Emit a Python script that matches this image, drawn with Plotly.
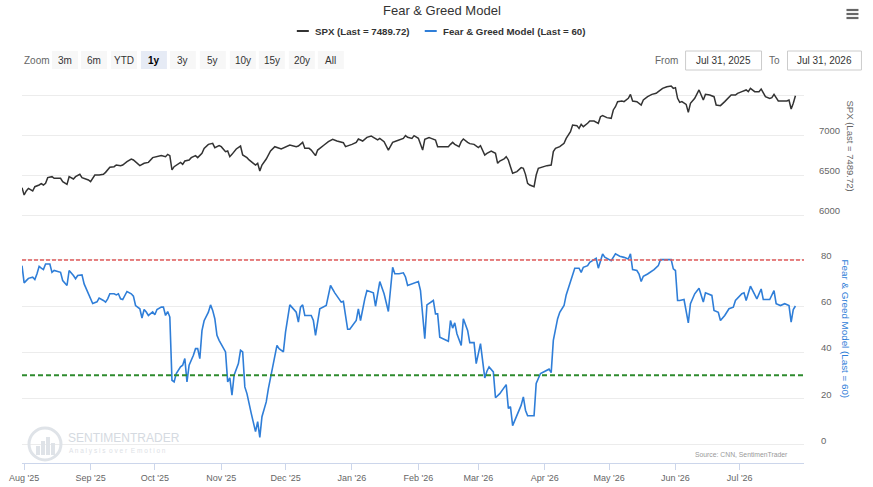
import plotly.graph_objects as go

# ---------------- DATA ----------------
spx_dates = [
 "2025-07-31","2025-08-01","2025-08-02","2025-08-03","2025-08-05","2025-08-06","2025-08-08","2025-08-09","2025-08-10","2025-08-11",
 "2025-08-12","2025-08-14","2025-08-15","2025-08-18","2025-08-19","2025-08-21","2025-08-22","2025-08-24","2025-08-25","2025-08-27",
 "2025-08-28","2025-08-31","2025-09-01","2025-09-03","2025-09-05","2025-09-07","2025-09-08","2025-09-10","2025-09-12","2025-09-13",
 "2025-09-15","2025-09-16","2025-09-18","2025-09-20","2025-09-21","2025-09-23","2025-09-24","2025-09-26","2025-09-28","2025-09-30",
 "2025-10-02","2025-10-04","2025-10-06","2025-10-07","2025-10-08","2025-10-09","2025-10-10","2025-10-12","2025-10-13","2025-10-14",
 "2025-10-15","2025-10-17","2025-10-18","2025-10-20","2025-10-21","2025-10-23","2025-10-24","2025-10-26","2025-10-28","2025-10-29",
 "2025-10-30","2025-10-31","2025-11-01","2025-11-03","2025-11-04","2025-11-05","2025-11-06","2025-11-08","2025-11-10","2025-11-11",
 "2025-11-13","2025-11-14","2025-11-16","2025-11-17","2025-11-18","2025-11-19","2025-11-20","2025-11-22","2025-11-24","2025-11-26",
 "2025-11-29","2025-12-01","2025-12-03","2025-12-06","2025-12-07","2025-12-09","2025-12-10","2025-12-12","2025-12-13","2025-12-15",
 "2025-12-16","2025-12-19","2025-12-21","2025-12-23","2025-12-25","2025-12-28","2025-12-29","2026-01-01","2026-01-03","2026-01-04",
 "2026-01-06","2026-01-08","2026-01-10","2026-01-11","2026-01-13","2026-01-14","2026-01-16","2026-01-18","2026-01-20","2026-01-22",
 "2026-01-25","2026-01-26","2026-01-27","2026-01-29","2026-01-30","2026-02-01","2026-02-02","2026-02-03","2026-02-04","2026-02-06",
 "2026-02-07","2026-02-09","2026-02-10","2026-02-13","2026-02-15","2026-02-16","2026-02-17","2026-02-18","2026-02-20","2026-02-21",
 "2026-02-22","2026-02-24","2026-02-25","2026-02-27","2026-03-01","2026-03-02","2026-03-03","2026-03-04","2026-03-05","2026-03-07",
 "2026-03-09","2026-03-10","2026-03-11","2026-03-13","2026-03-14","2026-03-15","2026-03-16","2026-03-17","2026-03-19","2026-03-20",
 "2026-03-21","2026-03-22","2026-03-23","2026-03-24","2026-03-25","2026-03-27","2026-03-28","2026-03-29","2026-03-31","2026-04-02",
 "2026-04-04","2026-04-05","2026-04-06","2026-04-08","2026-04-10","2026-04-11","2026-04-13","2026-04-14","2026-04-16","2026-04-17",
 "2026-04-18","2026-04-19","2026-04-21","2026-04-22","2026-04-24","2026-04-26","2026-04-27","2026-04-28","2026-04-30","2026-05-02",
 "2026-05-03","2026-05-04","2026-05-05","2026-05-07","2026-05-08","2026-05-09","2026-05-10","2026-05-11","2026-05-12","2026-05-14",
 "2026-05-16","2026-05-17","2026-05-19","2026-05-21","2026-05-23","2026-05-24","2026-05-26","2026-05-28","2026-05-30","2026-05-31",
 "2026-06-01","2026-06-02","2026-06-03","2026-06-04","2026-06-06","2026-06-07","2026-06-08","2026-06-10","2026-06-12","2026-06-14",
 "2026-06-15","2026-06-17","2026-06-19","2026-06-20","2026-06-22","2026-06-24","2026-06-27","2026-06-29","2026-06-30","2026-07-02",
 "2026-07-04","2026-07-05","2026-07-06","2026-07-08","2026-07-10","2026-07-11","2026-07-13","2026-07-15","2026-07-16","2026-07-17",
 "2026-07-19","2026-07-22","2026-07-23","2026-07-24","2026-07-25","2026-07-26","2026-07-27",
]
spx_values = [
 6342,6250,6300,6333,6300,6354,6375,6392,6375,6396,
 6467,6479,6458,6458,6417,6383,6479,6450,6479,6508,
 6467,6438,6417,6500,6500,6508,6533,6596,6604,6625,
 6617,6625,6667,6700,6688,6646,6617,6646,6658,6717,
 6729,6742,6729,6758,6742,6563,6604,6633,6658,6633,
 6675,6688,6717,6742,6717,6771,6833,6883,6896,6842,
 6854,6867,6854,6792,6800,6729,6758,6825,6862,6750,
 6717,6688,6646,6625,6646,6550,6625,6700,6800,6854,
 6825,6854,6875,6854,6862,6908,6833,6833,6812,6742,
 6812,6875,6917,6946,6925,6904,6854,6883,6908,6950,
 6925,6971,6988,6971,6938,6958,6917,6812,6908,6929,
 6958,6992,6971,6958,6992,6958,6896,6812,6946,6967,
 6958,6938,6854,6854,6854,6883,6908,6883,6854,6917,
 6950,6908,6892,6883,6842,6867,6812,6750,6771,6800,
 6771,6646,6675,6700,6729,6688,6604,6521,6542,6563,
 6592,6583,6508,6396,6375,6354,6500,6583,6604,6617,
 6625,6792,6833,6854,6896,6958,7042,7125,7117,7083,
 7133,7104,7146,7175,7175,7146,7229,7242,7217,7208,
 7313,7354,7417,7425,7417,7438,7458,7508,7425,7417,
 7375,7438,7479,7508,7521,7542,7583,7604,7613,7583,
 7592,7458,7408,7417,7383,7283,7396,7458,7563,7438,
 7508,7500,7479,7375,7367,7417,7500,7500,7521,7542,
 7563,7542,7583,7542,7542,7575,7479,7458,7467,7508,
 7425,7425,7425,7438,7325,7396,7489.72,
]

fg_dates = [
 "2025-07-31","2025-08-01","2025-08-02","2025-08-03","2025-08-05","2025-08-06","2025-08-07","2025-08-08","2025-08-09","2025-08-10",
 "2025-08-11","2025-08-13","2025-08-14","2025-08-15","2025-08-18","2025-08-19","2025-08-21","2025-08-22","2025-08-24","2025-08-25",
 "2025-08-26","2025-08-28","2025-08-29","2025-08-31","2025-09-02","2025-09-04","2025-09-05","2025-09-07","2025-09-08","2025-09-09",
 "2025-09-10","2025-09-12","2025-09-13","2025-09-14","2025-09-15","2025-09-16","2025-09-18","2025-09-20","2025-09-21","2025-09-22",
 "2025-09-24","2025-09-25","2025-09-26","2025-09-27","2025-09-28","2025-09-30","2025-10-01","2025-10-02","2025-10-04","2025-10-05",
 "2025-10-06","2025-10-07","2025-10-08","2025-10-09","2025-10-10","2025-10-11","2025-10-13","2025-10-14","2025-10-15","2025-10-16",
 "2025-10-17","2025-10-19","2025-10-20","2025-10-21","2025-10-22","2025-10-23","2025-10-24","2025-10-26","2025-10-27","2025-10-28",
 "2025-10-29","2025-10-30","2025-10-31","2025-11-03","2025-11-04","2025-11-05","2025-11-06","2025-11-07","2025-11-09","2025-11-10",
 "2025-11-11","2025-11-12","2025-11-13","2025-11-15","2025-11-17","2025-11-18","2025-11-19","2025-11-20","2025-11-22","2025-11-23",
 "2025-11-25","2025-11-27","2025-11-28","2025-11-30","2025-12-01","2025-12-03","2025-12-06","2025-12-07","2025-12-08","2025-12-09",
 "2025-12-10","2025-12-13","2025-12-14","2025-12-15","2025-12-17","2025-12-20","2025-12-22","2025-12-24","2025-12-27","2025-12-28",
 "2025-12-29","2025-12-30","2025-12-31","2026-01-03","2026-01-04","2026-01-05","2026-01-07","2026-01-08","2026-01-11","2026-01-12",
 "2026-01-14","2026-01-16","2026-01-18","2026-01-20","2026-01-21","2026-01-23","2026-01-25","2026-01-26","2026-01-27","2026-01-29",
 "2026-02-01","2026-02-02","2026-02-03","2026-02-04","2026-02-05","2026-02-08","2026-02-09","2026-02-10","2026-02-11","2026-02-13",
 "2026-02-15","2026-02-16","2026-02-17","2026-02-18","2026-02-19","2026-02-21","2026-02-22","2026-02-24","2026-02-25","2026-02-27",
 "2026-02-28","2026-03-02","2026-03-03","2026-03-04","2026-03-05","2026-03-06","2026-03-08","2026-03-09","2026-03-11","2026-03-14",
 "2026-03-15","2026-03-16","2026-03-17","2026-03-19","2026-03-21","2026-03-22","2026-03-23","2026-03-24","2026-03-27","2026-03-28",
 "2026-03-30","2026-04-03","2026-04-04","2026-04-05","2026-04-07","2026-04-08","2026-04-10","2026-04-11","2026-04-13","2026-04-14",
 "2026-04-15","2026-04-17","2026-04-18","2026-04-19","2026-04-21","2026-04-22","2026-04-24","2026-04-25","2026-04-26","2026-04-28",
 "2026-04-29","2026-05-02","2026-05-04","2026-05-06","2026-05-08","2026-05-10","2026-05-11","2026-05-12","2026-05-14","2026-05-15",
 "2026-05-16","2026-05-17","2026-05-19","2026-05-22","2026-05-24","2026-05-25","2026-05-30","2026-05-31","2026-06-01","2026-06-02",
 "2026-06-03","2026-06-05","2026-06-07","2026-06-08","2026-06-10","2026-06-12","2026-06-14","2026-06-15","2026-06-18","2026-06-19",
 "2026-06-21","2026-06-22","2026-06-24","2026-06-26","2026-06-28","2026-06-29","2026-07-02","2026-07-03","2026-07-04","2026-07-06",
 "2026-07-09","2026-07-11","2026-07-12","2026-07-15","2026-07-17","2026-07-18","2026-07-20","2026-07-22","2026-07-24","2026-07-25",
 "2026-07-26","2026-07-27",
]
fg_values = [
 77.5,70.0,71.0,72.0,72.5,71.5,74.0,77.2,76.4,75.8,
 78.2,78.2,74.6,75.4,74.6,71.0,68.9,75.4,73.2,71.8,
 73.2,73.5,69.6,65.3,61.1,61.8,63.4,62.4,61.7,63.1,
 65.3,65.3,64.8,65.3,63.1,62.8,66.3,65.3,64.3,60.2,
 58.8,54.8,58.5,57.4,55.9,57.4,56.2,58.5,59.5,59.5,
 55.9,57.6,55.2,27.8,27.1,30.7,33.6,34.3,37.2,27.1,
 34.3,38.6,41.5,41.5,37.2,49.3,53.6,57.3,60.5,58.1,
 54.5,47.3,45.1,40.1,27.1,28.8,21.3,30.0,35.0,40.8,
 40.1,24.9,22.0,13.4,5.5,9.8,3.0,12.0,18.4,24.2,
 34.3,42.9,41.5,40.1,48.7,60.5,57.3,53.0,59.5,60.5,
 55.9,55.9,53.7,47.3,58.8,60.2,68.9,65.7,61.7,62.0,
 55.9,49.9,49.9,53.7,58.8,53.7,63.1,66.7,65.7,59.9,
 70.6,65.3,57.6,76.8,74.0,74.0,74.4,72.6,68.9,69.6,
 70.6,66.7,57.3,45.8,60.5,62.4,56.6,56.6,46.5,45.5,
 44.7,53.7,50.4,52.7,48.0,42.9,54.5,49.4,44.1,44.1,
 35.0,43.7,37.2,28.8,31.7,33.6,31.4,20.2,22.0,25.9,
 15.6,16.3,8.1,12.7,17.0,20.6,14.8,12.4,12.4,26.4,
 30.7,32.6,31.1,45.1,54.5,57.3,60.2,64.8,70.3,73.2,
 76.4,76.4,74.6,76.8,77.5,79.0,80.4,80.7,76.4,82.6,
 81.2,79.7,82.6,81.6,81.1,80.4,82.6,75.8,75.4,73.9,
 70.6,72.9,73.9,75.8,77.5,80.1,80.1,76.1,75.4,62.4,
 62.4,62.8,52.7,61.0,65.3,67.7,61.7,65.7,64.6,58.1,
 57.3,53.7,55.9,58.8,59.5,62.4,65.3,65.7,62.4,68.6,
 63.1,67.4,62.8,62.8,66.7,61.0,60.2,61.0,60.2,53.0,
 58.5,60,
]

fg_thresholds = {"greed": 80, "fear": 30}
spx_ticks = [6000, 6500, 7000, 7500]
spx_ticktext = ["6000", "6500", "7000", ""]
fg_ticks = [0, 20, 40, 60, 80]
x_range = ["2025-07-31", "2026-07-31"]
zoom_buttons = ["3m", "6m", "YTD", "1y", "3y", "5y", "10y", "15y", "20y", "All"]
selected_button = "1y"

# ---------------- STYLE / LAYOUT ----------------
W, H = 873, 487
PLOT_L, PLOT_R, PLOT_T, PLOT_B = 22, 804.5, 85, 463   # screen pixels of the plot area
L, R, T, B = PLOT_L, W - PLOT_R, PLOT_T, H - PLOT_B
PW, PH = W - L - R, H - T - B
FONT = "Liberation Sans, Arial, sans-serif"
SPX_COLOR = "#333333"
FG_COLOR = "#2f7ed8"


def px(x):
    return (x - PLOT_L) / PW


def py(y):
    return 1 - (y - PLOT_T) / PH


def note(text, x, y, size, color, xanchor="center", yanchor="middle", **kw):
    return dict(text=text, x=px(x), y=py(y), xref="paper", yref="paper", xanchor=xanchor, yanchor=yanchor,
                showarrow=False, font=dict(size=size, color=color, family=FONT), **kw)


def prect(x0, y0, x1, y1, **kw):
    return dict(type="rect", xref="paper", yref="paper", x0=px(x0), x1=px(x1), y0=py(y1), y1=py(y0), **kw)


fig = go.Figure()
fig.add_trace(go.Scatter(x=spx_dates, y=spx_values, mode="lines", name="SPX (Last = 7489.72)",
                         line=dict(color=SPX_COLOR, width=1.5), xaxis="x", yaxis="y"))
fig.add_trace(go.Scatter(x=fg_dates, y=fg_values, mode="lines", name="Fear & Greed Model (Last = 60)",
                         line=dict(color=FG_COLOR, width=1.6), xaxis="x", yaxis="y2"))

shapes = []
annotations = []

# threshold lines
shapes.append(dict(type="line", xref="x domain", yref="y2", x0=0, x1=1,
                   y0=fg_thresholds["greed"], y1=fg_thresholds["greed"],
                   line=dict(color="#e05a5a", width=1.5, dash="4px,2px")))
shapes.append(dict(type="line", xref="x domain", yref="y2", x0=0, x1=1,
                   y0=fg_thresholds["fear"], y1=fg_thresholds["fear"],
                   line=dict(color="#2e8b2e", width=2, dash="5px,3px")))

# title
annotations.append(note("Fear & Greed Model", 442, 11, 13, "#333333"))
# legend
for lx, ltxt, col in [(297, "SPX (Last = 7489.72)", SPX_COLOR), (425, "Fear & Greed Model (Last = 60)", FG_COLOR)]:
    shapes.append(dict(type="line", xref="paper", yref="paper", x0=px(lx), x1=px(lx + 12),
                       y0=py(31), y1=py(31), line=dict(color=col, width=2)))
    annotations.append(note("<b>" + ltxt + "</b>", lx + 16, 31, 9.7, "#333333", xanchor="left"))

# hamburger menu
for hy in (10, 14, 18):
    shapes.append(prect(847, hy - 1.1, 859, hy + 1.1, fillcolor="#666666", line=dict(width=0)))

# zoom row
annotations.append(note("Zoom", 22, 60, 10, "#666666", xanchor="left"))
btn_centers = [65, 94, 124, 154, 183, 213, 243, 272, 302, 331]
for lbl, cx in zip(zoom_buttons, btn_centers):
    sel = lbl == selected_button
    shapes.append(prect(cx - 13, 51, cx + 13, 69, fillcolor="#e6ebf5" if sel else "#f7f7f7", line=dict(width=0)))
    annotations.append(note(("<b>%s</b>" % lbl) if sel else lbl, cx, 60, 10,
                            "#000000" if sel else "#333333"))

annotations.append(note("From", 680, 60, 10, "#666666", xanchor="right"))
annotations.append(note("To", 782, 60, 10, "#666666", xanchor="right"))
for x0, x1, txt in [(686, 762, "Jul 31, 2025"), (788, 862, "Jul 31, 2026")]:
    shapes.append(prect(x0, 51, x1, 70, fillcolor="white", line=dict(color="#cccccc", width=1)))
    annotations.append(note(txt, (x0 + x1) / 2, 60.5, 10, "#333333"))

# axis titles (rotated clockwise)
annotations.append(note("SPX (Last = 7489.72)", 852, 146, 9.5, "#666666", textangle=90))
annotations.append(note("Fear & Greed Model (Last = 60)", 847, 329, 9.8, FG_COLOR, textangle=90))

# watermark
shapes.append(dict(type="circle", xref="paper", yref="paper", x0=px(29), x1=px(61), y0=py(460), y1=py(428),
                   line=dict(color="#dfe3e8", width=3)))
for bx, bt in [(38, 446), (43, 441), (48, 437), (53, 443)]:
    shapes.append(prect(bx - 2, bt, bx + 2, 455, fillcolor="#dfe3e8", line=dict(width=0)))
annotations.append(note("SENTIMENTRADER", 66, 438, 12, "#d5dae1", xanchor="left"))
annotations.append(note("A n a l y s i s  o v e r  E m o t i o n", 67, 451, 6.5, "#dde1e6", xanchor="left"))
annotations.append(note("Source: CNN, SentimenTrader", 790, 454, 6.8, "#999999", xanchor="right"))

fig.update_layout(
    width=W, height=H,
    margin=dict(l=L, r=R, t=T, b=B, pad=0, autoexpand=False),
    paper_bgcolor="white", plot_bgcolor="white",
    showlegend=False,
    font=dict(family=FONT, color="#666666", size=10),
    xaxis=dict(type="date", range=x_range, anchor="y2", domain=[0, 1], automargin=False,
               showgrid=False, zeroline=False, showline=True, linecolor="#ccd6eb", linewidth=1,
               ticks="outside", ticklen=6, tickcolor="#ccd6eb", dtick="M1", tick0="2025-08-01",
               tickformat="%b '%y", tickfont=dict(size=9, color="#666666", family=FONT)),
    yaxis=dict(domain=[py(222), 1], range=[5912.5, 7625], side="right", anchor="x", automargin=False,
               tickvals=spx_ticks, ticktext=spx_ticktext, showgrid=True, gridcolor="#ececec",
               zeroline=False, showline=False, ticklabelstandoff=14, ticklabelshift=-4,
               tickfont=dict(size=9.5, color="#666666", family=FONT)),
    yaxis2=dict(domain=[0, py(238)], range=[-8.1, 89.5], side="right", anchor="x", automargin=False,
                tickvals=fg_ticks, showgrid=True, gridcolor="#ececec",
                zeroline=False, showline=False, ticklabelstandoff=16, ticklabelshift=-4,
                tickfont=dict(size=9.5, color="#666666", family=FONT)),
    shapes=shapes,
    annotations=annotations,
)

# remove the browser's default 8px page margin so the 873x487 figure fills the window exactly
fig.write_html("out.html", config={"displayModeBar": False},
               post_script="document.body.style.margin='0px';")
